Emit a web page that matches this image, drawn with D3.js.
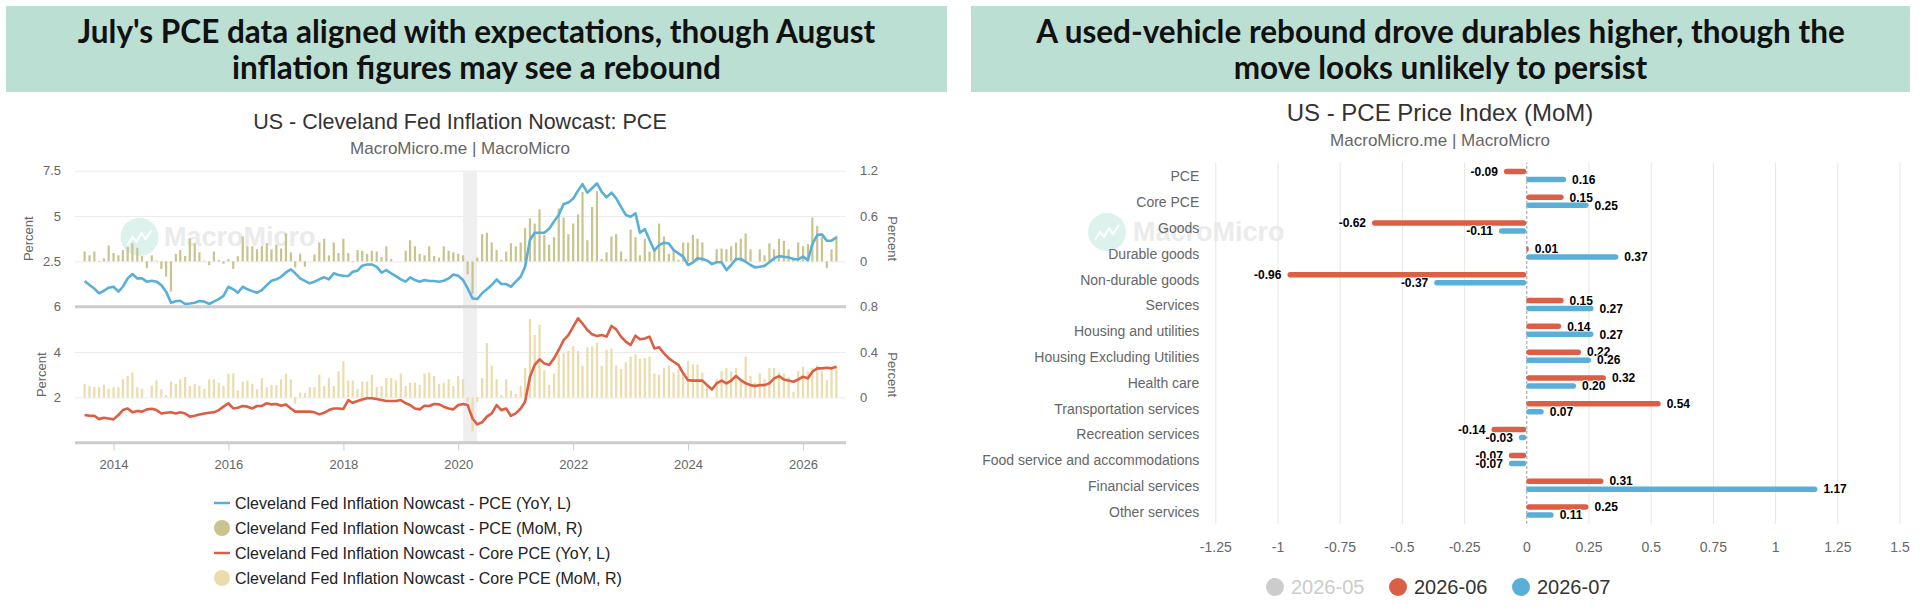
<!DOCTYPE html>
<html>
<head>
<meta charset="utf-8">
<script src="https://cdn.jsdelivr.net/npm/d3@7"></script>
<style>
  html, body { margin: 0; padding: 0; background: #fff; }
  svg { display: block; font-family: "Liberation Sans", Arial, sans-serif; }
</style>
</head>
<body>
<svg id="chart" width="1920" height="610"></svg>
<script>
// ---------- data ----------
const leftHeadline = ["July's PCE data aligned with expectations, though August", "inflation figures may see a rebound"];
const rightHeadline = ["A used-vehicle rebound drove durables higher, though the", "move looks unlikely to persist"];

// monthly, 2013-07 .. 2026-08
const pceYoY = [
  1.42, 1.2, 1.0, 0.74, 0.88, 1.05,
  1.1, 0.83, 1.1, 1.56, 1.8, 1.56, 1.56, 1.38, 1.43, 1.38, 1.19, 0.83,
  0.22, 0.3, 0.33, 0.15, 0.18, 0.22, 0.31, 0.28, 0.15, 0.28, 0.42, 0.6,
  1.1, 0.96, 0.77, 1.1, 0.96, 0.86, 0.77, 0.92, 1.19, 1.43, 1.51, 1.65,
  1.89, 2.06, 1.84, 1.56, 1.42, 1.29, 1.38, 1.51, 1.62, 1.51, 1.84, 1.75,
  1.71, 1.69, 1.93, 1.99, 2.26, 2.33, 2.33, 2.2, 1.88, 2.02, 1.84, 1.69,
  1.51, 1.38, 1.62, 1.47, 1.38, 1.47, 1.42, 1.42, 1.38, 1.43, 1.56, 1.78,
  1.71, 1.47, 1.01, 0.46, 0.42, 0.74, 0.96, 1.2, 1.5, 1.25, 1.25, 1.1,
  1.38, 1.65, 2.2, 3.68, 4.08, 4.08, 4.08, 4.3, 4.7, 5.06, 5.66, 5.74,
  5.97, 6.4, 6.76, 6.29, 6.53, 6.8, 6.34, 6.03, 6.29, 5.97, 5.51, 5.06,
  4.96, 5.15, 4.08, 4.28, 3.68, 3.1, 3.4, 3.53, 3.49, 3.13, 2.94, 2.76,
  2.3, 2.43, 2.67, 2.63, 2.55, 2.35, 2.45, 2.45, 2.02, 2.3, 2.63, 2.63,
  2.48, 2.3, 2.17, 2.2, 2.25, 2.45, 2.67, 2.79, 2.75, 2.72, 2.63, 2.61,
  2.76, 2.57, 3.45, 3.95, 3.99, 3.64, 3.64, 3.82
];
const pceMoM = [
  0.13, 0.08, 0.13, 0.01, 0.04, 0.21,
  0.11, 0.08, 0.15, 0.19, 0.24, 0.18, 0.07, -0.09, 0.08, 0.01, -0.1, -0.2,
  -0.4, 0.1, 0.15, 0.07, 0.3, 0.24, 0.12, 0.01, -0.05, 0.13, 0.02, -0.03,
  0.03, -0.1, 0.07, 0.33, 0.2, 0.2, 0.16, 0.2, 0.24, 0.16, 0.22, 0.17,
  0.37, 0.12, -0.08, 0.1, -0.07, 0.0, 0.09, 0.25, 0.3, 0.08, 0.25, 0.11,
  0.3, 0.11, -0.01, 0.15, 0.14, 0.1, 0.14, 0.13, 0.06, 0.2, 0.03, 0.0,
  0.0, 0.14, 0.28, 0.2, 0.1, 0.08, 0.2, 0.07, 0.05, 0.2, 0.14, 0.12,
  0.1, 0.08, -0.17, -0.43, 0.05, 0.36, 0.38, 0.25, 0.15, 0.02, 0.13, 0.24,
  0.2, 0.25, 0.44, 0.57, 0.5, 0.69, 0.35, 0.22, 0.32, 0.7, 0.58, 0.36,
  0.5, 0.62, 0.92, 0.28, 0.72, 0.93, 0.03, 0.12, 0.33, 0.36, 0.13, 0.03,
  0.42, 0.32, 0.08, 0.3, 0.13, 0.16, 0.5, 0.33, 0.1, 0.16, 0.02, 0.25,
  0.25, 0.35, 0.3, 0.25, 0.0, 0.0, 0.16, 0.17, 0.16, 0.2, 0.25, 0.3,
  0.37, 0.16, 0.0, 0.16, 0.08, 0.24, 0.16, 0.3, 0.27, 0.16, 0.05, 0.25,
  0.2, 0.23, 0.58, 0.47, 0.32, -0.09, 0.16, 0.34
];
const corePceYoY = [
  1.22, 1.19, 1.19, 1.04, 1.1, 1.07,
  1.03, 1.22, 1.44, 1.51, 1.34, 1.4, 1.37, 1.47, 1.5, 1.44, 1.29, 1.32,
  1.34, 1.29, 1.34, 1.29, 1.15, 1.19, 1.24, 1.29, 1.32, 1.34, 1.44, 1.59,
  1.74, 1.51, 1.54, 1.62, 1.59, 1.51, 1.62, 1.62, 1.74, 1.69, 1.71, 1.63,
  1.69, 1.51, 1.37, 1.37, 1.37, 1.37, 1.34, 1.25, 1.32, 1.44, 1.51, 1.51,
  1.49, 1.88, 1.76, 1.84, 1.91, 1.96, 1.96, 1.93, 1.88, 1.84, 1.84, 1.84,
  1.88, 1.74, 1.66, 1.51, 1.47, 1.63, 1.62, 1.71, 1.69, 1.59, 1.51, 1.47,
  1.66, 1.71, 1.66, 1.07, 0.81, 0.9, 1.15, 1.29, 1.66, 1.44, 1.51, 1.18,
  1.29, 1.51, 1.81, 2.91, 3.43, 3.68, 3.5, 3.43, 3.72, 4.09, 4.53, 4.75,
  5.12, 5.49, 5.26, 4.97, 4.78, 4.71, 4.75, 4.68, 5.15, 5.0, 4.68, 4.46,
  4.31, 4.72, 4.56, 4.6, 4.68, 4.16, 4.21, 3.94, 3.72, 3.57, 3.43, 3.06,
  2.76, 2.74, 2.74, 2.74, 2.54, 2.35, 2.62, 2.74, 2.62, 2.74, 2.94, 2.76,
  2.62, 2.54, 2.5, 2.54, 2.54, 2.62, 2.84, 2.94, 2.79, 2.74, 2.69, 2.79,
  2.91, 2.84, 3.13, 3.28, 3.28, 3.31, 3.28, 3.35
];
const corePceMoM = [
  0.12, 0.1, 0.09, 0.09, 0.11, 0.075,
  0.09, 0.09, 0.16, 0.19, 0.22, 0.09, 0.075, 0.0, 0.1, 0.15, 0.07, 0.02,
  0.14, 0.12, 0.16, 0.18, 0.1, 0.12, 0.1, 0.075, 0.16, 0.16, 0.13, 0.1,
  0.21, 0.21, 0.06, 0.14, 0.15, 0.12, 0.07, 0.17, 0.09, 0.11, 0.11, 0.16,
  0.21, 0.16, -0.055, 0.04, 0.04, 0.09, 0.09, 0.2, 0.1, 0.17, 0.1, 0.23,
  0.32, 0.15, 0.15, 0.075, 0.14, 0.14, 0.2, 0.09, 0.1, 0.17, 0.17, 0.15,
  0.21, 0.1, 0.13, 0.13, 0.11, 0.21, 0.22, 0.19, 0.12, 0.13, 0.16, 0.1,
  0.19, 0.16, -0.04, -0.3, -0.04, 0.17, 0.48, 0.28, 0.16, 0.02, 0.16, 0.06,
  0.03, 0.1, 0.26, 0.69, 0.55, 0.64, 0.24, 0.11, 0.21, 0.38, 0.39, 0.41,
  0.45, 0.41, 0.28, 0.44, 0.45, 0.48, 0.28, 0.42, 0.43, 0.28, 0.25, 0.31,
  0.36, 0.38, 0.34, 0.35, 0.36, 0.21, 0.2, 0.26, 0.28, 0.22, 0.25, 0.21,
  0.32, 0.29, 0.29, 0.22, 0.12, 0.0, 0.16, 0.23, 0.26, 0.23, 0.26, 0.16,
  0.36, 0.19, 0.13, 0.21, 0.16, 0.26, 0.26, 0.22, 0.21, 0.18, 0.05, 0.23,
  0.27, 0.23, 0.26, 0.28, 0.23, 0.15, 0.25, 0.28
];
const recession = [new Date(2020, 1, 1), new Date(2020, 3, 30)];
const yearTicks = [2014, 2016, 2018, 2020, 2022, 2024, 2026];
const topLeftTicks = [2.5, 5, 7.5];
const topRightTicks = [0, 0.6, 1.2];
const bottomLeftTicks = [2, 4, 6];
const bottomRightTicks = [0, 0.4, 0.8];
const leftLegend = [
  "Cleveland Fed Inflation Nowcast - PCE (YoY, L)",
  "Cleveland Fed Inflation Nowcast - PCE (MoM, R)",
  "Cleveland Fed Inflation Nowcast - Core PCE (YoY, L)",
  "Cleveland Fed Inflation Nowcast - Core PCE (MoM, R)"
];

const categories = [
  "PCE", "Core PCE", "Goods", "Durable goods", "Non-durable goods", "Services",
  "Housing and utilities", "Housing Excluding Utilities", "Health care",
  "Transportation services", "Recreation services", "Food service and accommodations",
  "Financial services", "Other services"
];
const mom202606 = [-0.09, 0.15, -0.62, 0.01, -0.96, 0.15, 0.14, 0.22, 0.32, 0.54, -0.14, -0.07, 0.31, 0.25];
const mom202607 = [0.16, 0.25, -0.11, 0.37, -0.37, 0.27, 0.27, 0.26, 0.20, 0.07, -0.03, -0.07, 1.17, 0.11];
const periods = ["2026-05", "2026-06", "2026-07"];
const rightTicks = [-1.25, -1, -0.75, -0.5, -0.25, 0, 0.25, 0.5, 0.75, 1, 1.25, 1.5];

// ---------- drawing ----------
const BLUE = "#5aafd8", RED = "#dc5e44", OLIVE = "#c9c38e", BEIGE = "#ecdcab";
const svg = d3.select("#chart");

// header boxes
[[6, 947, leftHeadline], [971, 1910, rightHeadline]].forEach(([x0, x1, lines]) => {
  svg.append("rect").attr("x", x0).attr("y", 6).attr("width", x1 - x0).attr("height", 86)
    .attr("fill", "#bcdfd3");
  svg.append("g").selectAll("text").data(lines).join("text")
    .attr("x", (x0 + x1) / 2).attr("y", (d, i) => 43 + i * 36)
    .attr("text-anchor", "middle")
    .style("font-family", "Lato, 'Open Sans', sans-serif")
    .attr("font-weight", 700).attr("font-size", 31.5).attr("fill", "#111")
    .text(d => d);
});

function watermark(cx, cy, tx) {
  const g = svg.append("g");
  g.append("circle").attr("cx", cx).attr("cy", cy).attr("r", 19).attr("fill", "#ddf2ec");
  g.append("path")
    .attr("d", `M${cx - 12},${cy + 8} l5,-8 l4,5 l5,-9 l4,6 l6,-9`)
    .attr("fill", "none").attr("stroke", "#fff").attr("stroke-width", 2);
  g.append("text").attr("x", tx).attr("y", cy).attr("dy", "0.35em")
    .attr("font-size", 27).attr("font-weight", 700).attr("fill", "#ebebeb")
    .text("MacroMicro");
}

function titles(cx, ty, tsize, sy, title) {
  svg.append("text").attr("x", cx).attr("y", ty).attr("text-anchor", "middle")
    .attr("font-size", tsize).attr("fill", "#333").text(title);
  svg.append("text").attr("x", cx).attr("y", sy).attr("text-anchor", "middle")
    .attr("font-size", 17).attr("fill", "#666").text("MacroMicro.me | MacroMicro");
}

// ---------- left chart ----------
const months = d3.timeMonth.range(new Date(2013, 6, 1), new Date(2026, 8, 1));
const L = { left: 75, right: 846, top: 170.7, mid: 306.7, bottom: 442.7 };
const x = d3.scaleTime().domain([new Date(2013, 4, 1), new Date(2026, 9, 1)]).range([L.left, L.right]);
const yTopL = d3.scaleLinear().domain([0, 7.5]).range([L.mid, L.top]);
const yTopR = d3.scaleLinear().domain([-0.6, 1.2]).range([L.mid, L.top]);
const yBotL = d3.scaleLinear().domain([0, 6]).range([L.bottom, L.mid]);
const yBotR = d3.scaleLinear().domain([-0.4, 0.8]).range([L.bottom, L.mid]);

titles(460, 129, 21.5, 154, "US - Cleveland Fed Inflation Nowcast: PCE");
watermark(139.5, 237, 164);

function grid(scale, values) {
  const g = svg.append("g").attr("transform", `translate(${L.left},0)`)
    .call(d3.axisLeft(scale).tickValues(values).tickSize(-(L.right - L.left)).tickFormat(""));
  g.select(".domain").remove();
  g.selectAll("line").attr("stroke", "#ebebeb");
}
grid(yTopL, topLeftTicks);
grid(yBotL, [2, 4]);

svg.append("rect")
  .attr("x", x(recession[0])).attr("width", x(recession[1]) - x(recession[0]))
  .attr("y", L.top).attr("height", L.bottom - L.top).attr("fill", "#efefef");

function bars(values, scale, color) {
  svg.append("g").selectAll("rect").data(values).join("rect")
    .attr("x", (d, i) => x(months[i]) - 1.1).attr("width", 2.2)
    .attr("y", d => Math.min(scale(d), scale(0)))
    .attr("height", d => Math.abs(scale(d) - scale(0)))
    .attr("fill", color);
}
bars(pceMoM, yTopR, OLIVE);
bars(corePceMoM, yBotR, BEIGE);

function line(values, scale, color) {
  svg.append("path").datum(values)
    .attr("d", d3.line().x((d, i) => x(months[i])).y(d => scale(d)))
    .attr("fill", "none").attr("stroke", color).attr("stroke-width", 2.6)
    .attr("stroke-linejoin", "round");
}
line(pceYoY, yTopL, BLUE);
line(corePceYoY, yBotL, RED);

[L.mid, L.bottom].forEach(y => {
  svg.append("line").attr("x1", L.left).attr("x2", L.right).attr("y1", y).attr("y2", y)
    .attr("stroke", "#cccccc").attr("stroke-width", 3);
});

function tickLabels(axis, tx) {
  const g = svg.append("g").attr("transform", `translate(${tx},0)`).call(axis);
  g.select(".domain").remove();
  g.selectAll("text").attr("font-size", 13).attr("fill", "#666").style("font-family", "inherit");
}
const fmt = d => String(d);
tickLabels(d3.axisLeft(yTopL).tickValues(topLeftTicks).tickSize(0).tickPadding(14).tickFormat(fmt), L.left);
tickLabels(d3.axisLeft(yBotL).tickValues(bottomLeftTicks).tickSize(0).tickPadding(14).tickFormat(fmt), L.left);
tickLabels(d3.axisRight(yTopR).tickValues(topRightTicks).tickSize(0).tickPadding(14).tickFormat(fmt), L.right);
tickLabels(d3.axisRight(yBotR).tickValues(bottomRightTicks).tickSize(0).tickPadding(14).tickFormat(fmt), L.right);

const xAxis = svg.append("g").attr("transform", `translate(0,${L.bottom})`)
  .call(d3.axisBottom(x).tickValues(yearTicks.map(y => new Date(y, 0, 1)))
    .tickSize(8).tickPadding(9).tickFormat(d3.timeFormat("%Y")));
xAxis.select(".domain").remove();
xAxis.selectAll("line").attr("stroke", "#cccccc");
xAxis.selectAll("text").attr("font-size", 13).attr("fill", "#666").style("font-family", "inherit");

[[28, (L.top + L.mid) / 2, -90], [41, (L.mid + L.bottom) / 2, -90],
 [893, (L.top + L.mid) / 2, 90], [893, (L.mid + L.bottom) / 2, 90]].forEach(([px, py, r]) => {
  svg.append("text").attr("transform", `translate(${px},${py}) rotate(${r})`)
    .attr("text-anchor", "middle").attr("dy", "0.35em")
    .attr("font-size", 13).attr("fill", "#666").text("Percent");
});

const legendColors = [BLUE, OLIVE, RED, BEIGE];
const lg = svg.append("g").selectAll("g").data(leftLegend).join("g")
  .attr("transform", (d, i) => `translate(214,${503 + i * 25})`);
lg.filter((d, i) => i % 2 === 0).append("line")
  .attr("x1", 0).attr("x2", 16).attr("stroke", (d, i) => legendColors[i * 2]).attr("stroke-width", 2.5);
lg.filter((d, i) => i % 2 === 1).append("circle")
  .attr("cx", 8).attr("r", 8).attr("fill", (d, i) => legendColors[i * 2 + 1]);
lg.append("text").attr("x", 21).attr("dy", "0.35em").attr("font-size", 16).attr("fill", "#222")
  .text(d => d);

// ---------- right chart ----------
const R = { left: 1215.3, right: 1899.5, top: 162.6, bottom: 523.9 };
const xr = d3.scaleLinear().domain([-1.25, 1.5]).range([R.left, R.right]);
const yr = d3.scaleBand().domain(categories).range([R.top, R.bottom]);

titles(1440, 121, 24, 146, "US - PCE Price Index (MoM)");
watermark(1107, 232, 1133);

const rg = svg.append("g").attr("transform", `translate(0,${R.bottom})`)
  .call(d3.axisBottom(xr).tickValues(rightTicks).tickSize(-(R.bottom - R.top)).tickFormat(""));
rg.select(".domain").remove();
rg.selectAll("line").attr("stroke", "#e6e6e6");
rg.selectAll(".tick").filter(d => d === 0).select("line")
  .attr("stroke", "#999").attr("stroke-dasharray", "3,2");

const rx = svg.append("g").attr("transform", `translate(0,${R.bottom})`)
  .call(d3.axisBottom(xr).tickValues(rightTicks).tickSize(0).tickPadding(18).tickFormat(fmt));
rx.select(".domain").remove();
rx.selectAll("text").attr("font-size", 14).attr("fill", "#666").style("font-family", "inherit");

const ry = svg.append("g").attr("transform", `translate(${R.left},0)`)
  .call(d3.axisLeft(yr).tickSize(0).tickPadding(16));
ry.select(".domain").remove();
ry.selectAll("text").attr("font-size", 14).attr("fill", "#666").attr("dy", "0.42em")
  .style("font-family", "inherit");

const rightSeries = [
  { values: mom202606, color: RED, off: -4 },
  { values: mom202607, color: BLUE, off: 4 }
];
rightSeries.forEach(s => {
  const cy = (d, i) => yr(categories[i]) + yr.bandwidth() / 2 + s.off;
  svg.append("g").selectAll("rect").data(s.values).join("rect")
    .attr("x", d => xr(Math.min(0, d))).attr("width", d => Math.abs(xr(d) - xr(0)))
    .attr("y", (d, i) => cy(d, i) - 2.75).attr("height", 5.5).attr("rx", 2.75)
    .attr("fill", s.color);
  svg.append("g").selectAll("text").data(s.values).join("text")
    .attr("x", d => d >= 0 ? xr(d) + 6 : xr(d) - 6)
    .attr("y", (d, i) => cy(d, i)).attr("dy", "0.35em")
    .attr("text-anchor", d => d >= 0 ? "start" : "end")
    .attr("font-size", 12).attr("font-weight", 700).attr("fill", "#000")
    .attr("stroke", "#fff").attr("stroke-width", 2).attr("paint-order", "stroke")
    .text(d => d.toFixed(2));
});

const legendRight = [
  { name: periods[0], color: "#cccccc", text: "#cccccc" },
  { name: periods[1], color: RED, text: "#333" },
  { name: periods[2], color: BLUE, text: "#333" }
];
const rl = svg.append("g").selectAll("g").data(legendRight).join("g")
  .attr("transform", (d, i) => `translate(${1275 + i * 123},587)`);
rl.append("circle").attr("r", 9).attr("fill", d => d.color);
rl.append("text").attr("x", 16).attr("dy", "0.35em").attr("font-size", 20)
  .attr("fill", d => d.text).text(d => d.name);
</script>
</body>
</html>
